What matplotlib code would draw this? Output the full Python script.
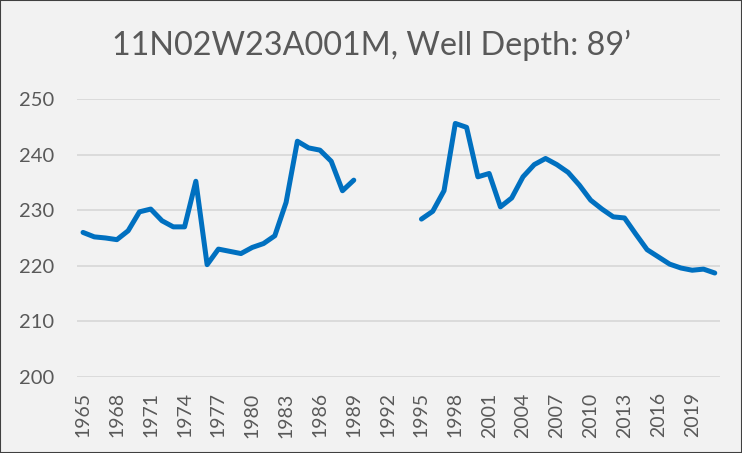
import numpy as np
import matplotlib.pyplot as plt
from matplotlib.patches import Rectangle

plt.rcParams['font.family'] = ['Lato', 'DejaVu Sans']

years = list(range(1965, 2022))
levels_early = [226.0, 225.2, 225.0, 224.7, 226.3, 229.7, 230.2, 228.1, 227.0, 227.0,
                235.2, 220.2, 223.0, 222.6, 222.2, 223.3, 224.0, 225.4, 231.4, 242.4,
                241.2, 240.8, 238.8, 233.5, 235.4]
levels_gap = [np.nan] * 5
levels_late = [228.4, 229.8, 233.5, 245.6, 244.9, 236.0, 236.6, 230.6, 232.2, 236.0,
               238.2, 239.3, 238.2, 236.8, 234.5, 231.8, 230.2, 228.8, 228.6, 225.7,
               222.9, 221.6, 220.3, 219.6, 219.2, 219.4, 218.7]
levels = levels_early + levels_gap + levels_late
tick_years = list(range(1965, 2020, 3))

bg = '#F2F2F2'
txt = '#595959'

fig = plt.figure(figsize=(7.42, 4.53), dpi=100, facecolor=bg)
ax = fig.add_axes([0.1043, 0.1678, 0.8666, 0.6137])
ax.set_facecolor(bg)

ax.plot(years, levels, color='#0070C0', linewidth=3.6, solid_capstyle='round',
        solid_joinstyle='round', zorder=3)

ax.set_xlim(1964.5, 2021.5)
ax.set_ylim(200, 250)
ax.set_yticks(range(200, 251, 10))
ax.set_xticks(tick_years)
ax.set_xticklabels([str(y) for y in tick_years], rotation=90)
ax.grid(axis='y', color='#D9D9D9', linewidth=1.3)
ax.tick_params(axis='both', length=0, colors=txt)
ax.tick_params(axis='y', pad=17, labelsize=14.5)
ax.tick_params(axis='x', pad=11, labelsize=14)
for s in ax.spines.values():
    s.set_visible(False)

fig.text(0.5, 0.90, '11N02W23A001M, Well Depth: 89\u2019', ha='center', va='center',
         fontsize=23.3, color=txt)

fig.patches.append(Rectangle((0, 0), 1, 1, transform=fig.transFigure, fill=False,
                             edgecolor='#404040', linewidth=1.5))

fig.savefig('out.png', dpi=100, facecolor=bg)
